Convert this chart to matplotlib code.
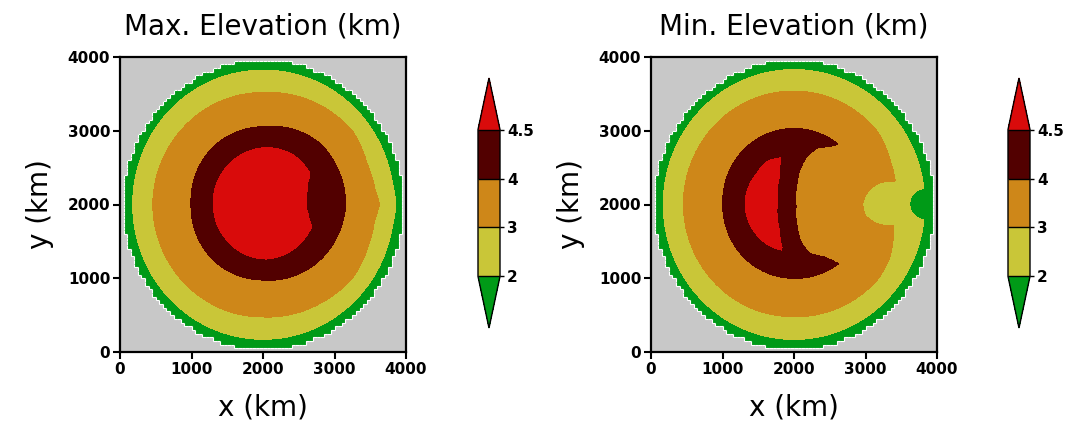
import numpy as np
import matplotlib.pyplot as plt
from matplotlib.colors import ListedColormap, BoundaryNorm
from matplotlib.collections import LineCollection

# contour levels (km) and colours
levels = [2, 3, 4, 4.5]
level_labels = ['2', '3', '4', '4.5']
fill_colors = ['#C9C638', '#CE8719', '#520000']
under_color = '#009A17'
over_color = '#D90B0B'
mask_color = '#C8C8C8'

# ice sheet mask (50 km cells)
ice_center = (2000, 2000)
ice_radius = 1962
cell = 50
ticks = [0, 1000, 2000, 3000, 4000]

# level boundaries: radius (km) vs angle (deg) around a centre
# --- Max. Elevation
max_l2_ang = [0, 10, 45, 90, 135, 180, 225, 270, 315, 350]
max_l2_rad = [1858, 1833, 1832, 1822, 1825, 1822, 1825, 1828, 1830, 1833]
max_l3_ang = [0, 8, 21, 38, 60, 90, 135, 180, 225, 270, 300, 322, 339, 352]
max_l3_rad = [1628, 1578, 1558, 1600, 1565, 1518, 1525, 1542, 1530, 1525, 1560, 1600, 1577, 1575]
max_l4_ang = [0, 46, 90, 131, 180, 224, 270, 320]
max_l4_rad = [1157, 1151, 1055, 1047, 1007, 1025, 1024, 1102]
max_l45_ang = [10, 24.8, 32.7, 57.7, 83, 129.5, 180, 223.5, 274, 310, 336, 342, 353.1]
max_l45_rad = [612, 684, 782, 794, 776, 724, 694, 699, 741, 742, 745, 682, 616]

# --- Min. Elevation
min_l2_ang = [0, 90, 180, 270]
min_l2_rad = [1830, 1830, 1828, 1830]
min_l2_bite_c = (3830, 2005)
min_l2_bite_ang = [0]
min_l2_bite_rad = [210]
min_l3_ang = [0, 13, 23, 40, 90, 180, 270, 320, 332, 349]
min_l3_rad = [1435, 1452, 1470, 1530, 1539, 1548, 1521, 1550, 1519, 1418]
min_l3_bite_c = (3400, 2015)
min_l3_bite_ang = [0, 60, 90, 109, 142, 167, 180, 201, 220, 251, 270, 300]
min_l3_bite_rad = [420, 400, 300, 311, 368, 416, 438, 435, 382, 311, 300, 400]
min_l4_ang = [0, 53, 90, 135, 180, 225, 270, 315]
min_l4_rad = [1030, 1025, 1033, 1024, 997, 1002, 1001, 1020]
min_l4_bite_c = (2800, 2000)
min_l4_bite_ang = [0, 90, 95, 103, 111, 122, 134, 147, 162, 182, 202, 217, 229, 241, 249, 257, 265, 270]
min_l4_bite_rad = [1500, 1500, 1200, 837, 838, 901, 898, 855, 800, 771, 811, 870, 877, 807, 800, 819, 1200, 1500]
min_l45_ang = [0, 90, 106, 123, 141, 179, 221, 237, 254, 270]
min_l45_rad = [700, 670, 660, 695, 671, 685, 663, 656, 643, 650]
min_l45_bite_c = (2800, 2000)
min_l45_bite_ang = [0, 140, 147, 159, 179, 199, 211, 213, 220]
min_l45_bite_rad = [1500, 1400, 1169, 1073, 1033, 1063, 1128, 1160, 1400]


def inside(X, Y, c, ang, rad):
    # positive inside the outline, in km
    dx, dy = X - c[0], Y - c[1]
    if len(ang) == 1:
        return rad[0] - np.hypot(dx, dy)
    th = np.degrees(np.arctan2(dy, dx)) % 360
    return np.interp(th, ang, rad, period=360) - np.hypot(dx, dy)


def level_index(X, Y, outlines):
    h = np.zeros_like(X)
    for out in outlines:
        s = inside(X, Y, ice_center, out[0], out[1])
        if len(out) > 2:
            s = np.minimum(s, -inside(X, Y, out[2], out[3], out[4]))
        h += np.clip(s / 10 + 0.5, 0, 1)
    return h


x = np.arange(0, 4001, 5.0)
X, Y = np.meshgrid(x, x)

max_field = level_index(X, Y, [
    (max_l2_ang, max_l2_rad),
    (max_l3_ang, max_l3_rad),
    (max_l4_ang, max_l4_rad),
    (max_l45_ang, max_l45_rad),
])
min_field = level_index(X, Y, [
    (min_l2_ang, min_l2_rad, min_l2_bite_c, min_l2_bite_ang, min_l2_bite_rad),
    (min_l3_ang, min_l3_rad, min_l3_bite_c, min_l3_bite_ang, min_l3_bite_rad),
    (min_l4_ang, min_l4_rad, min_l4_bite_c, min_l4_bite_ang, min_l4_bite_rad),
    (min_l45_ang, min_l45_rad, min_l45_bite_c, min_l45_bite_ang, min_l45_bite_rad),
])

# gray cells outside the ice sheet
edges = np.arange(0, 4001, cell)
cent = edges[:-1] + cell / 2
CX, CY = np.meshgrid(cent, cent)
outside = np.hypot(CX - ice_center[0], CY - ice_center[1]) > ice_radius

segs = []
for j in range(len(cent)):
    for i in range(len(cent) - 1):
        if outside[j, i] != outside[j, i + 1]:
            segs.append([(edges[i + 1], edges[j]), (edges[i + 1], edges[j + 1])])
for j in range(len(cent) - 1):
    for i in range(len(cent)):
        if outside[j, i] != outside[j + 1, i]:
            segs.append([(edges[i], edges[j + 1]), (edges[i + 1], edges[j + 1])])

idx_levels = [0.5, 1.5, 2.5, 3.5]

fig = plt.figure(figsize=(10.69, 4.30), dpi=100)
W, H = 1069, 430

panels = [
    (max_field, 'Max. Elevation (km)', 120, 478),
    (min_field, 'Min. Elevation (km)', 651, 1008),
]

for field, title, x0, cbx in panels:
    cmap = ListedColormap(fill_colors)
    cmap.set_under(under_color)
    cmap.set_over(over_color)
    norm = BoundaryNorm(idx_levels, cmap.N)

    ax = fig.add_axes([x0 / W, (H - 352) / H, 286 / W, 295 / H])
    cs = ax.contourf(X, Y, field, levels=idx_levels, cmap=cmap, norm=norm, extend='both')
    ax.pcolormesh(edges, edges, np.ma.masked_where(~outside, np.ones(outside.shape)),
                  cmap=ListedColormap([mask_color]))
    ax.add_collection(LineCollection(segs, colors='white', linewidths=0.8))
    ax.set_xlim(0, 4000)
    ax.set_ylim(0, 4000)
    ax.set_xticks(ticks)
    ax.set_yticks(ticks)
    ax.set_xticklabels([str(t) for t in ticks], fontweight='bold', fontsize=11)
    ax.set_yticklabels([str(t) for t in ticks], fontweight='bold', fontsize=11)
    ax.tick_params(direction='out', length=5, width=1.5, pad=2)
    for sp in ax.spines.values():
        sp.set_linewidth(1.6)
    ax.set_title(title, fontsize=20, pad=16)
    ax.set_xlabel('x (km)', fontsize=20, labelpad=12)
    ax.set_ylabel('y (km)', fontsize=20, labelpad=10)

    cax = fig.add_axes([cbx / W, (H - 328) / H, 22 / W, 250 / H])
    cb = fig.colorbar(cs, cax=cax, extend='both', extendfrac=0.351,
                      drawedges=True, ticks=idx_levels)
    cb.set_ticklabels(level_labels)
    cb.ax.tick_params(length=3, width=1, labelsize=11, pad=2)
    for lbl in cb.ax.get_yticklabels():
        lbl.set_fontweight('bold')
    cb.outline.set_linewidth(1)
    cb.dividers.set_linewidth(1)

fig.savefig('out.png', dpi=100)
